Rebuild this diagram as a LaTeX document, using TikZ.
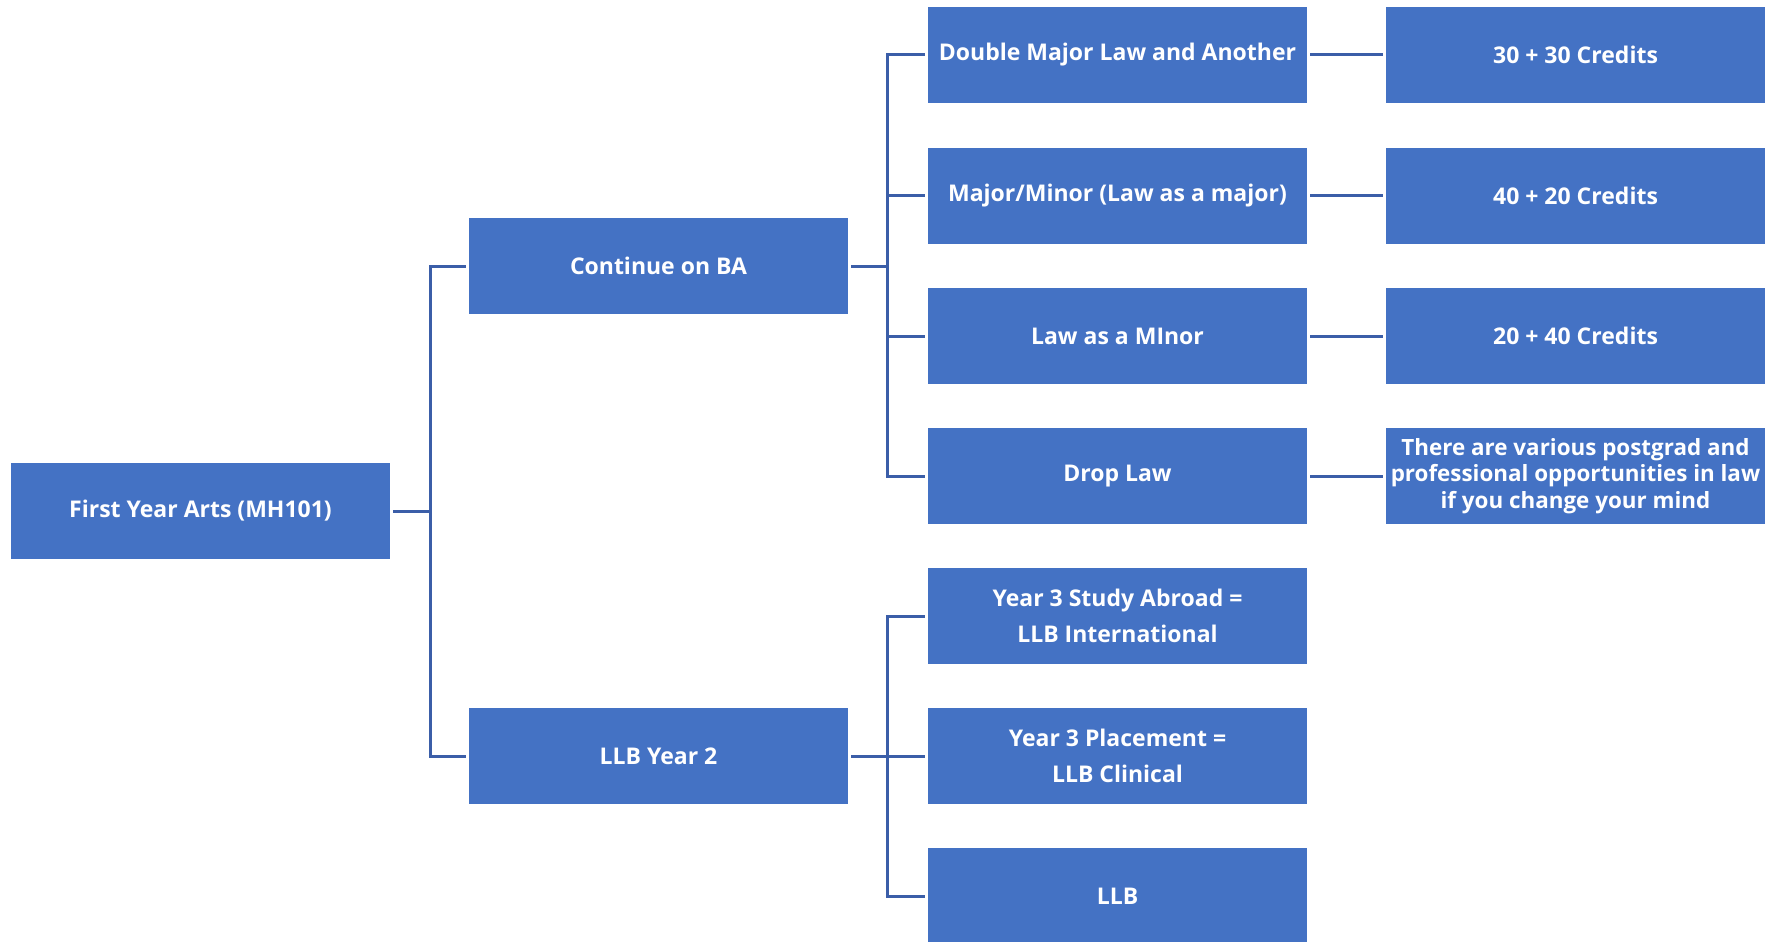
\documentclass[tikz,border=0pt]{standalone}
\usepackage{fontspec}
\setmainfont{Open Sans}
\definecolor{boxblue}{HTML}{4472C4}
\definecolor{lineblue}{HTML}{3B5EA8}
\begin{document}
\begin{tikzpicture}[x=1pt,y=-1pt,
  box/.style={fill=boxblue, text=white, font=\bfseries\fontsize{23}{27}\selectfont,
    minimum width=379pt, minimum height=96pt, inner sep=0pt, align=center},
  link/.style={draw=lineblue, line width=3pt}]
\useasboundingbox (0,0) rectangle (1770,942);
% column 1
\node[box] (fy) at (200.5,511) {First Year Arts (MH101)};
% column 2
\node[box] (ba) at (658.5,266) {Continue on BA};
\node[box] (l2) at (658.5,756) {LLB Year 2};
% column 3
\node[box] (dm) at (1117.5,55) {Double Major Law and Another};
\node[box] (mm) at (1117.5,195.5) {Major/Minor (Law as a major)};
\node[box] (lm) at (1117.5,336) {Law as a MInor};
\node[box] (dl) at (1117.5,476) {Drop Law};
\node[box, font=\bfseries\fontsize{23}{36}\selectfont] (ya) at (1117.5,616) {Year 3 Study Abroad =\\LLB International};
\node[box, font=\bfseries\fontsize{23}{36}\selectfont] (yp) at (1117.5,756) {Year 3 Placement =\\LLB Clinical};
\node[box] (ll) at (1117.5,896) {LLB};
% column 4
\node[box] (c1) at (1575.5,55) {30 + 30 Credits};
\node[box] (c2) at (1575.5,195.5) {40 + 20 Credits};
\node[box] (c3) at (1575.5,336) {20 + 40 Credits};
\node[box, font=\bfseries\fontsize{22.4}{26.5}\selectfont] (c4) at (1575.5,476) {There are various postgrad and\\professional opportunities in law\\if you change your mind};
% junctions
\coordinate (j1) at (430,511);
\coordinate (j2) at (887,266);
\coordinate (j3) at (887,756);
% connectors
\draw[link] ([xshift=3pt]fy.east) -- (j1);
\draw[link] (j1) |- ([xshift=-3pt]ba.west);
\draw[link] (j1) |- ([xshift=-3pt]l2.west);
\draw[link] ([xshift=3pt]ba.east) -- (j2);
\draw[link] (j2) |- ([xshift=-3pt]dm.west);
\draw[link] (j2) |- ([xshift=-3pt]mm.west);
\draw[link] (j2) |- ([xshift=-3pt]lm.west);
\draw[link] (j2) |- ([xshift=-3pt]dl.west);
\draw[link] ([xshift=3pt]l2.east) -- (j3);
\draw[link] (j3) |- ([xshift=-3pt]ya.west);
\draw[link] (j3) |- ([xshift=-3pt]yp.west);
\draw[link] (j3) |- ([xshift=-3pt]ll.west);
\draw[link] ([xshift=3pt]dm.east) -- ([xshift=-3pt]c1.west);
\draw[link] ([xshift=3pt]mm.east) -- ([xshift=-3pt]c2.west);
\draw[link] ([xshift=3pt]lm.east) -- ([xshift=-3pt]c3.west);
\draw[link] ([xshift=3pt]dl.east) -- ([xshift=-3pt]c4.west);
\end{tikzpicture}
\end{document}
